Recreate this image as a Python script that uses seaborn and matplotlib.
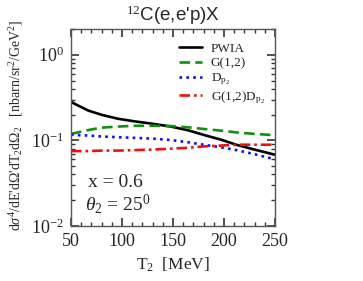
import numpy as np
import pandas as pd
import matplotlib
matplotlib.use("Agg")
import matplotlib.pyplot as plt
import seaborn as sns
from matplotlib.ticker import LogLocator, MultipleLocator, NullFormatter

# ── Data ─────────────────────────────────────────────────────────────────────
T2 = [50, 57, 67, 80, 96, 112, 129, 148, 165, 180, 197, 212, 230, 250]
pwia = [0.282, 0.255, 0.223, 0.199, 0.179, 0.167, 0.157, 0.145, 0.131, 0.116, 0.102, 0.089, 0.078, 0.068]
g12 = [0.119, 0.124, 0.132, 0.141, 0.145, 0.148, 0.148, 0.147, 0.142, 0.136, 0.130, 0.124, 0.119, 0.115]
dp2 = [0.117, 0.115, 0.114, 0.111, 0.109, 0.107, 0.105, 0.101, 0.095, 0.089, 0.083, 0.077, 0.069, 0.060]
g12dp2 = [0.075, 0.075, 0.075, 0.076, 0.076, 0.077, 0.078, 0.080, 0.082, 0.085, 0.087, 0.089, 0.089, 0.089]

labels = ["PWIA", "G(1,2)", r"D$_{\mathrm{p_2}}$", r"G(1,2)D$_{\mathrm{p_2}}$"]
colors = ["black", "#109010", "#1010ee", "#ee1010"]
dashes = [None, (4, 2), (1, 1.6), (4, 1.5, 1, 1.5)]

df = pd.DataFrame({"T2": T2, labels[0]: pwia, labels[1]: g12,
                   labels[2]: dp2, labels[3]: g12dp2})
long = df.melt(id_vars="T2", var_name="curve", value_name="xs")

sns.set_style("ticks")
plt.rcParams["font.family"] = ["Liberation Serif", "DejaVu Serif"]
plt.rcParams["mathtext.fontset"] = "custom"
plt.rcParams["mathtext.rm"] = "Liberation Serif"
plt.rcParams["mathtext.it"] = "Liberation Serif:italic"

fig = plt.figure(figsize=(3.63, 2.81), dpi=100)
ax = fig.add_axes([71 / 363, 1 - 226 / 281, 204 / 363, 197 / 281])
ax.set_yscale("log")

for lab, col, d in zip(labels, colors, dashes):
    sub = long[long["curve"] == lab]
    sns.lineplot(data=sub, x="T2", y="xs", ax=ax, color=col, lw=1.9, label=lab)
    if d is not None:
        ax.lines[-1].set_dashes(d)

ax.set_xlim(50, 250)
ax.set_ylim(0.01, 2.0)
ax.xaxis.set_major_locator(MultipleLocator(50))
ax.xaxis.set_minor_locator(MultipleLocator(10))
ax.yaxis.set_major_locator(LogLocator(base=10))
ax.yaxis.set_minor_locator(LogLocator(base=10, subs=np.arange(2, 10)))
ax.yaxis.set_minor_formatter(NullFormatter())
for s in ax.spines.values():
    s.set_color("#555555")
    s.set_linewidth(1.0)

ax.set_xlabel(r"T$_2$  [MeV]", fontsize=12.5, labelpad=4)
ax.set_ylabel(r"d$\sigma^4$/dE'd$\Omega$'dT$_2$d$\Omega_2$   [nbarn/sr$^2$/GeV$^2$]",
              fontsize=10)
ax.yaxis.set_label_coords(-0.225, 0.51)
ax.set_title(r"$^{12}$C(e,e'p)X", fontsize=13.5, family="Liberation Sans", pad=6)

ax.text(0.085, 0.20, "x = 0.6", transform=ax.transAxes, fontsize=14)
ax.text(0.07, 0.08, r"$\theta_2$ = 25$^0$", transform=ax.transAxes, fontsize=14)

ax.legend(loc="upper right", frameon=False, fontsize=9.5, handlelength=1.7,
          handletextpad=0.7, labelspacing=0.15, borderaxespad=0.2,
          bbox_to_anchor=(0.99, 0.97))

# tick styling last: inward ticks on all four sides
ax.tick_params(axis="both", which="both", direction="in", top=True, right=True,
               bottom=True, left=True, labelsize=13, pad=5)
ax.tick_params(axis="both", which="major", length=6, width=1.2, color="#333333")
ax.tick_params(axis="both", which="minor", length=3, width=1.0, color="#333333")
fig.savefig("out.png", dpi=100)
